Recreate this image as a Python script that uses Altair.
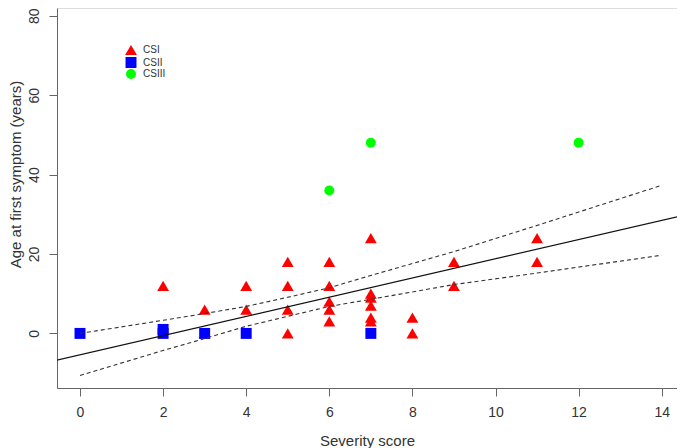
import altair as alt
import pandas as pd

# ---- data ----
csi_x = [2, 3, 3, 4, 4, 5, 5, 5, 5, 6, 6, 6, 6, 6, 7, 7, 7, 7, 7, 7, 8, 8, 9, 9, 11, 11]
csi_y = [12, 6, 0, 12, 6, 18, 12, 6, 0, 18, 12, 8, 6, 3, 24, 10, 9, 7, 4, 3, 4, 0, 18, 12, 24, 18]
csii_x = [0, 2, 2, 3, 4, 7]
csii_y = [0, 0, 1, 0, 0, 0]
csiii_x = [6, 7, 12]
csiii_y = [36, 48, 48]
groups = ["CSI", "CSII", "CSIII"]
group_colors = ["#FF0000", "#0000FF", "#00FF00"]
group_shapes = ["triangle-up", "square", "circle"]

# fitted line (read at ends, extends across panel)
fit_x = [-1, 15]
fit_y = [-7.8, 30.9]
# confidence band
ci_x = [0, 2, 3, 4, 5, 6, 7, 9, 11, 14]
ci_upper = [0.0, 3.3, 5.0, 6.8, 9.1, 11.5, 14.6, 20.6, 27.2, 37.3]
ci_lower = [-10.6, -4.3, -1.3, 1.8, 4.3, 6.8, 8.6, 12.3, 15.2, 19.7]

x_ticks = [0, 2, 4, 6, 8, 10, 12, 14]
y_ticks = [0, 20, 40, 60, 80]

pts = pd.DataFrame({
    "x": csi_x + csii_x + csiii_x,
    "y": csi_y + csii_y + csiii_y,
    "group": ["CSI"] * len(csi_x) + ["CSII"] * len(csii_x) + ["CSIII"] * len(csiii_x),
})
pts["order"] = range(len(pts))
fit = pd.DataFrame({"x": fit_x, "y": fit_y})
ci = pd.DataFrame({
    "x": ci_x * 2,
    "y": ci_upper + ci_lower,
    "band": ["upper"] * len(ci_x) + ["lower"] * len(ci_x),
})

FONT = "Liberation Sans"
xscale = alt.Scale(domain=[-0.5535, 14.368], nice=False, zero=False)
yscale = alt.Scale(domain=[-13.75, 81.96], nice=False, zero=False)

xaxis = alt.Axis(values=x_ticks, title="Severity score", grid=False, tickSize=8,
                 labelFontSize=14, labelPadding=9, labelFont=FONT, labelColor="#333333",
                 titleFont=FONT, titleFontSize=15, titleFontWeight="normal", titleColor="#333333",
                 titleY=57, titleBaseline="alphabetic",
                 domainColor="#666666", tickColor="#666666", labelFlush=False)
yaxis = alt.Axis(values=y_ticks, title="Age at first symptom (years)", grid=False, tickSize=8,
                 labelFontSize=14, labelPadding=8, labelAngle=270, labelAlign="center",
                 labelBaseline="bottom", labelFont=FONT, labelColor="#333333",
                 titleFont=FONT, titleFontSize=15, titleFontWeight="normal", titleColor="#333333",
                 titleAngle=270, titleAlign="center", titleBaseline="middle",
                 titleX=-42, titleY=166,
                 domainColor="#666666", tickColor="#666666", labelFlush=False)

points = alt.Chart(pts).mark_point(filled=True, opacity=1, strokeWidth=0).encode(
    x=alt.X("x:Q", scale=xscale, axis=xaxis),
    y=alt.Y("y:Q", scale=yscale, axis=yaxis),
    color=alt.Color("group:N", scale=alt.Scale(domain=groups, range=group_colors),
                    legend=alt.Legend(title=None, orient="none", legendX=68, legendY=36,
                                      labelFont=FONT, labelFontSize=10, labelColor="#333333",
                                      symbolSize=100, rowPadding=1, labelOffset=6,
                                      symbolStrokeWidth=0)),
    shape=alt.Shape("group:N", scale=alt.Scale(domain=groups, range=group_shapes), legend=None),
    size=alt.Size("group:N", scale=alt.Scale(domain=groups, range=[140, 100, 95]), legend=None),
    order=alt.Order("order:Q"),
)

line = alt.Chart(fit).mark_line(color="#111111", strokeWidth=1.2, clip=True).encode(
    x=alt.X("x:Q", scale=xscale), y=alt.Y("y:Q", scale=yscale)
)
bands = alt.Chart(ci).mark_line(color="#333333", strokeWidth=1.1, strokeDash=[4, 3], clip=True).encode(
    x=alt.X("x:Q", scale=xscale), y=alt.Y("y:Q", scale=yscale), detail="band:N"
)

chart = alt.layer(points, bands, line).properties(
    width=620, height=380,
    autosize=alt.AutoSizeParams(type="none"),
    padding={"left": 49, "top": 0, "right": 0, "bottom": 60},
).configure_view(stroke="#888888", strokeWidth=1).configure(background="white")

chart.save("out.html", embed_options={"renderer": "svg", "actions": False})
